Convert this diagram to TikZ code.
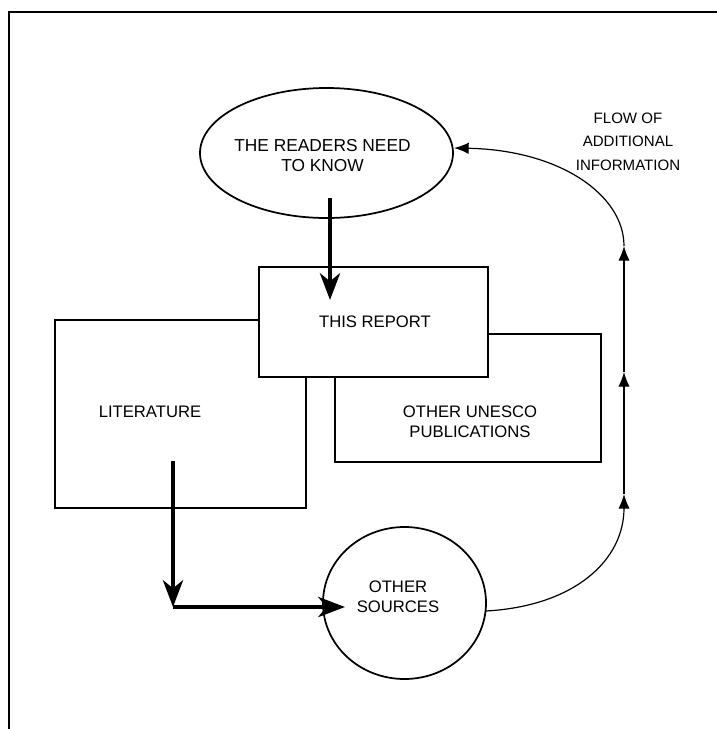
\documentclass[tikz,border=0pt]{standalone}
\usepackage{fontspec}
\setmainfont{Liberation Sans}
\usetikzlibrary{arrows.meta,shapes.geometric}
\begin{document}
\begin{tikzpicture}[x=0.75pt,y=-0.75pt,
  box/.style={draw,line width=1.2pt,fill=white,rectangle,inner sep=0pt},
  oval/.style={draw,line width=1.3pt,ellipse,inner sep=0pt},
  txt/.style={font=\fontsize{12.5}{15}\selectfont,align=center,inner sep=0pt},
  bigarrow/.style={line width=3.6pt,-{Stealth[length=20pt,width=15pt,inset=6pt]}},
  bigline/.style={line width=3.6pt},
  thinarrow/.style={line width=0.9pt,-{Latex[length=11pt,width=8.5pt]}}]
\useasboundingbox (0,0) rectangle (717,729);

% outer frame (top and left edges)
\draw[line width=1.5pt] (9,729) -- (9,12) -- (717,12);

% stacked boxes: the report box lies on top of the other two
\node[box,minimum width=188.25pt,minimum height=141pt] (lit) at (180.5,414) {};
\node[box,minimum width=199.5pt,minimum height=96pt] (unesco) at (468,398) {};
\node[box,minimum width=171.75pt,minimum height=82.5pt] (report) at (373.5,322) {};

\node[txt] (littext) at (150,412) {LITERATURE};
\node[txt] (unescotext) at (470,422) {OTHER UNESCO\\PUBLICATIONS};
\node[txt] (reporttext) at (375,322) {THIS REPORT};

% readers and other sources
\node[oval,minimum width=189.75pt,minimum height=97.5pt] (readers) at (326.5,153) {};
\node[txt,font=\fontsize{13}{15}\selectfont] (readerstext) at (322.5,156) {THE READERS NEED\\TO KNOW};

\node[oval,minimum width=122.25pt,minimum height=114pt] (sources) at (404.5,603) {};
\node[txt] (sourcestext) at (398,597) {OTHER\\SOURCES};

\node[txt,font=\fontsize{11.3}{17.6}\selectfont] (flow) at (628,141.5) {FLOW OF\\ADDITIONAL\\INFORMATION};

% heavy arrows
\coordinate (r1) at (330,198);
\coordinate (r2) at (330,300);
\draw[bigarrow] (r1) -- (r2);

\coordinate (l1) at (173,461);
\coordinate (l2) at (173,607);
\coordinate (l3) at (345,607);
\draw[bigarrow] (l1) -- (l2);
\draw[bigline] (l2) -- ([xshift=-6pt]l3);
\draw[bigarrow] ([xshift=-8pt]l3) -- (l3);

% return flow of additional information
\coordinate (a0) at (486,611);
\coordinate (v1) at (624,494);
\coordinate (v2) at (624,372);
\coordinate (v3) at (624,246);
\coordinate (e1) at (454,148);
\draw[thinarrow] (a0) .. controls (575,606) and (624,560) .. (v1);
\draw[thinarrow] (v1) -- (v2);
\draw[thinarrow] (v2) -- (v3);
\draw[thinarrow] (v3) .. controls (624,195) and (560,150) .. (e1);
\end{tikzpicture}
\end{document}
